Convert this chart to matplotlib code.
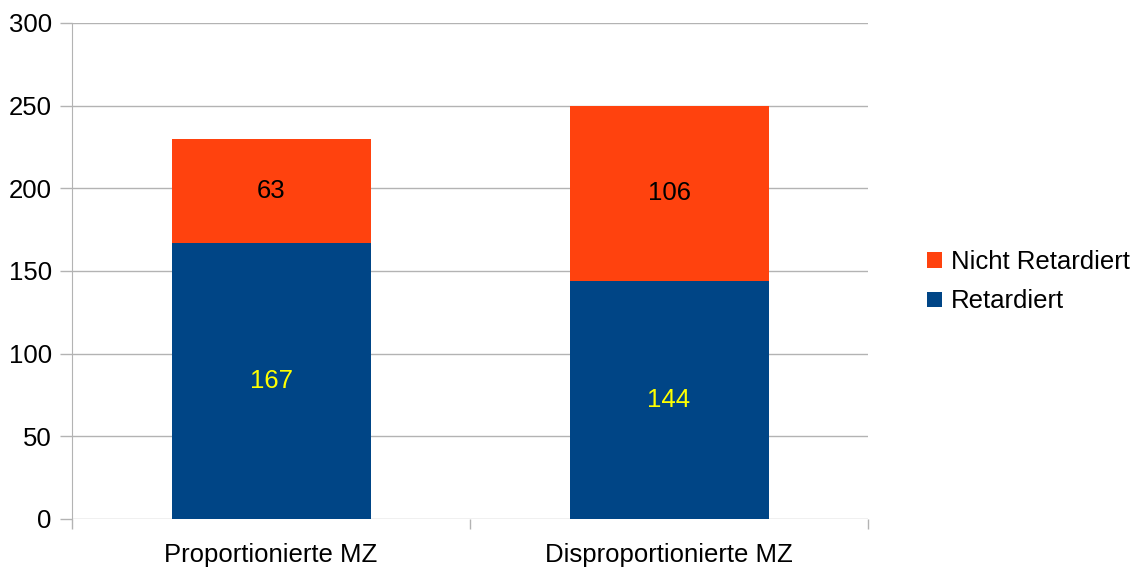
import numpy as np
import matplotlib.pyplot as plt

plt.rcParams['font.family'] = ['Liberation Sans', 'DejaVu Sans']

categories = ['Proportionierte MZ', 'Disproportionierte MZ']
retardiert = [167, 144]
nicht_retardiert = [63, 106]
series_names = ['Retardiert', 'Nicht Retardiert']

blue = '#004586'
orange = '#ff420e'
grid_gray = '#b3b3b3'
fs = 18.5

fig = plt.figure(figsize=(11.36, 5.69), dpi=100)
ax = fig.add_axes([0.0634, 0.0879, 0.7007, 0.8717])

x = np.arange(len(categories))
width = 0.5
b1 = ax.bar(x, retardiert, width, color=blue, label=series_names[0], zorder=2)
b2 = ax.bar(x, nicht_retardiert, width, bottom=retardiert, color=orange,
            label=series_names[1], zorder=2)

# value labels in the middle of each segment
for xi, r, n in zip(x, retardiert, nicht_retardiert):
    ax.text(xi, r / 2, str(r), ha='center', va='center', fontsize=fs, color='#ffff00', zorder=3)
    ax.text(xi, r + n / 2, str(n), ha='center', va='center', fontsize=fs, color='black', zorder=3)

ax.set_xlim(-0.5, len(categories) - 0.5)
ax.set_ylim(0, 300)
ax.set_yticks(np.arange(0, 301, 50))
ax.yaxis.grid(True, color=grid_gray, linewidth=1, zorder=0)
ax.set_axisbelow(True)

# category separators as major ticks, names on minor ticks
ax.set_xticks(np.arange(-0.5, len(categories), 1.0))
ax.set_xticklabels([])
ax.set_xticks(x, minor=True)
ax.set_xticklabels(categories, minor=True, fontsize=fs)
ax.tick_params(axis='x', which='major', length=7.2, color=grid_gray, width=1)
ax.tick_params(axis='x', which='minor', length=0, pad=17)
ax.tick_params(axis='y', length=8.6, color=grid_gray, width=1, pad=6, labelsize=fs)

for side in ['top', 'right', 'bottom']:
    ax.spines[side].set_visible(False)
ax.spines['left'].set_color(grid_gray)
ax.spines['left'].set_bounds(0, 300)

fig.legend(handles=[b2, b1], labels=[series_names[1], series_names[0]],
           loc='center left', bbox_to_anchor=(0.796, 0.505), frameon=False,
           fontsize=fs, handlelength=0.55, handleheight=0.55, handletextpad=0.35,
           labelspacing=0.6)

fig.savefig('out.png', dpi=100)
